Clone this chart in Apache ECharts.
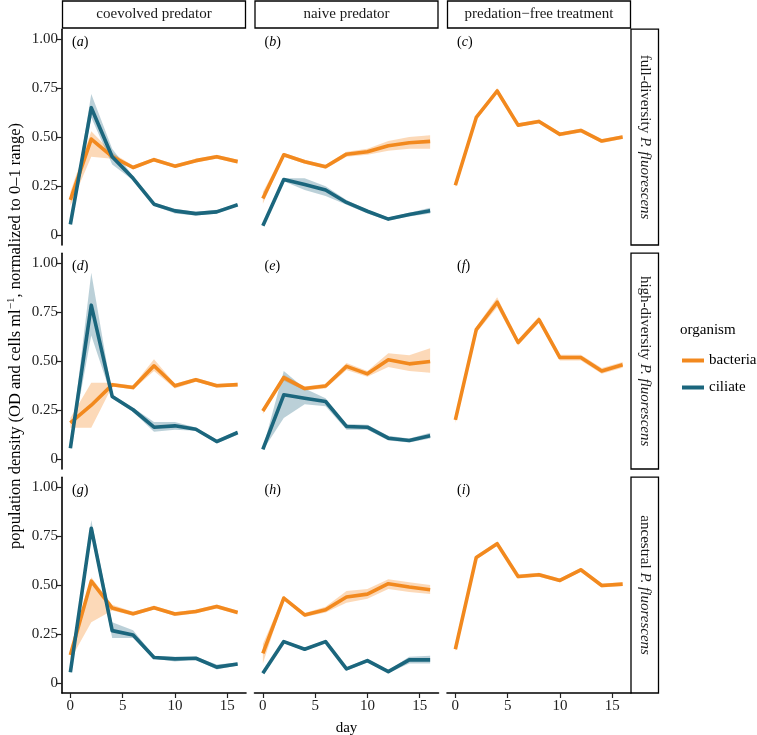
<!DOCTYPE html>
<html>
<head>
<meta charset="utf-8">
<script src="https://cdn.jsdelivr.net/npm/echarts@6/dist/echarts.min.js"></script>
<style>
html,body{margin:0;padding:0;background:#fff;}
#chart{width:757px;height:735px;}
</style>
</head>
<body>
<div id="chart"></div>
<script>
// ---------- data ----------
const days = [0, 2, 4, 6, 8, 10, 12, 14, 16];
const xTicks = [0, 5, 10, 15];
const yTicks = [0, 0.25, 0.5, 0.75, 1];
const colLabels = ['coevolved predator', 'naive predator', 'predation\u2212free treatment'];
const rowLabels = ['full-diversity', 'high-diversity', 'ancestral'];
const panelLetters = ['a', 'b', 'c', 'd', 'e', 'f', 'g', 'h', 'i'];
const organisms = ['bacteria', 'ciliate'];

// panel (a)
const aBact   = [0.18, 0.49, 0.40, 0.345, 0.385, 0.352, 0.38, 0.40, 0.375];
const aBactLo = [0.15, 0.40, 0.39, 0.335, 0.375, 0.342, 0.37, 0.39, 0.365];
const aBactHi = [0.22, 0.53, 0.42, 0.355, 0.395, 0.362, 0.39, 0.41, 0.385];
const aCil    = [0.055, 0.65, 0.40, 0.29, 0.158, 0.124, 0.11, 0.119, 0.155];
const aCilLo  = [0.05, 0.60, 0.36, 0.28, 0.15, 0.11, 0.10, 0.11, 0.15];
const aCilHi  = [0.06, 0.72, 0.44, 0.30, 0.165, 0.135, 0.12, 0.13, 0.16];
// panel (b)
const bBact   = [0.187, 0.41, 0.374, 0.349, 0.413, 0.425, 0.456, 0.471, 0.478];
const bBactLo = [0.16, 0.40, 0.364, 0.339, 0.40, 0.41, 0.43, 0.44, 0.44];
const bBactHi = [0.22, 0.42, 0.384, 0.359, 0.425, 0.44, 0.48, 0.50, 0.51];
const bCil    = [0.048, 0.284, 0.258, 0.23, 0.167, 0.122, 0.082, 0.105, 0.125];
const bCilLo  = [0.045, 0.275, 0.23, 0.20, 0.155, 0.11, 0.075, 0.095, 0.11];
const bCilHi  = [0.052, 0.29, 0.29, 0.25, 0.18, 0.13, 0.09, 0.115, 0.14];
// panel (c)
const cBact   = [0.255, 0.60, 0.735, 0.561, 0.58, 0.514, 0.534, 0.48, 0.50];
const cBactLo = [0.245, 0.59, 0.72, 0.551, 0.57, 0.504, 0.524, 0.47, 0.49];
const cBactHi = [0.265, 0.61, 0.75, 0.571, 0.59, 0.524, 0.544, 0.49, 0.51];
// panel (d)
const dBact   = [0.185, 0.275, 0.379, 0.365, 0.476, 0.374, 0.405, 0.374, 0.38];
const dBactLo = [0.16, 0.16, 0.37, 0.355, 0.45, 0.36, 0.395, 0.365, 0.37];
const dBactHi = [0.21, 0.39, 0.39, 0.375, 0.51, 0.385, 0.415, 0.385, 0.39];
const dCil    = [0.056, 0.785, 0.32, 0.252, 0.163, 0.17, 0.153, 0.09, 0.136];
const dCilLo  = [0.05, 0.63, 0.31, 0.24, 0.14, 0.15, 0.145, 0.08, 0.125];
const dCilHi  = [0.062, 0.95, 0.33, 0.262, 0.19, 0.19, 0.162, 0.10, 0.145];
// panel (e)
const eBact   = [0.246, 0.416, 0.36, 0.373, 0.473, 0.435, 0.507, 0.486, 0.498];
const eBactLo = [0.23, 0.40, 0.35, 0.36, 0.455, 0.42, 0.47, 0.45, 0.44];
const eBactHi = [0.26, 0.43, 0.37, 0.385, 0.49, 0.45, 0.54, 0.53, 0.565];
const eCil    = [0.05, 0.328, 0.311, 0.294, 0.167, 0.163, 0.107, 0.095, 0.119];
const eCilLo  = [0.045, 0.21, 0.28, 0.27, 0.15, 0.15, 0.095, 0.085, 0.105];
const eCilHi  = [0.055, 0.45, 0.36, 0.31, 0.18, 0.175, 0.12, 0.105, 0.135];
// panel (f)
const fBact   = [0.20, 0.66, 0.80, 0.595, 0.711, 0.518, 0.518, 0.45, 0.481];
const fBactLo = [0.185, 0.645, 0.775, 0.58, 0.695, 0.503, 0.503, 0.435, 0.466];
const fBactHi = [0.215, 0.675, 0.825, 0.61, 0.727, 0.533, 0.533, 0.465, 0.496];
// panel (g)
const gBact   = [0.144, 0.52, 0.383, 0.354, 0.385, 0.353, 0.365, 0.391, 0.36];
const gBactLo = [0.12, 0.31, 0.37, 0.344, 0.375, 0.343, 0.355, 0.381, 0.35];
const gBactHi = [0.17, 0.54, 0.40, 0.364, 0.395, 0.363, 0.375, 0.401, 0.37];
const gCil    = [0.056, 0.79, 0.268, 0.246, 0.131, 0.124, 0.127, 0.082, 0.098];
const gCilLo  = [0.05, 0.76, 0.23, 0.23, 0.125, 0.11, 0.12, 0.07, 0.09];
const gCilHi  = [0.062, 0.83, 0.31, 0.27, 0.14, 0.135, 0.135, 0.095, 0.105];
// panel (h)
const hBact   = [0.152, 0.434, 0.348, 0.374, 0.439, 0.454, 0.507, 0.49, 0.476];
const hBactLo = [0.10, 0.425, 0.338, 0.36, 0.41, 0.43, 0.48, 0.465, 0.455];
const hBactHi = [0.20, 0.445, 0.358, 0.39, 0.47, 0.48, 0.53, 0.515, 0.50];
const hCil    = [0.051, 0.212, 0.173, 0.212, 0.073, 0.115, 0.059, 0.119, 0.119];
const hCilLo  = [0.046, 0.205, 0.165, 0.205, 0.065, 0.105, 0.052, 0.10, 0.10];
const hCilHi  = [0.056, 0.22, 0.18, 0.22, 0.08, 0.125, 0.066, 0.135, 0.14];
// panel (i)
const iBact   = [0.173, 0.641, 0.711, 0.544, 0.553, 0.524, 0.578, 0.498, 0.505];
const iBactLo = [0.163, 0.631, 0.70, 0.534, 0.543, 0.514, 0.568, 0.488, 0.495];
const iBactHi = [0.183, 0.651, 0.722, 0.554, 0.563, 0.534, 0.588, 0.508, 0.515];

const panels = [
  {bacteria: [aBact, aBactLo, aBactHi], ciliate: [aCil, aCilLo, aCilHi]},
  {bacteria: [bBact, bBactLo, bBactHi], ciliate: [bCil, bCilLo, bCilHi]},
  {bacteria: [cBact, cBactLo, cBactHi]},
  {bacteria: [dBact, dBactLo, dBactHi], ciliate: [dCil, dCilLo, dCilHi]},
  {bacteria: [eBact, eBactLo, eBactHi], ciliate: [eCil, eCilLo, eCilHi]},
  {bacteria: [fBact, fBactLo, fBactHi]},
  {bacteria: [gBact, gBactLo, gBactHi], ciliate: [gCil, gCilLo, gCilHi]},
  {bacteria: [hBact, hBactLo, hBactHi], ciliate: [hCil, hCilLo, hCilHi]},
  {bacteria: [iBact, iBactLo, iBactHi]}
];

// ---------- styling / layout ----------
const SERIF = '"Liberation Serif", "DejaVu Serif", serif';
const lineColor = {bacteria: '#F2891E', ciliate: '#1B667D'};
const ribbonColor = {bacteria: 'rgba(245,140,40,0.33)', ciliate: 'rgba(30,100,125,0.30)'};
const colLeft = [62, 254.5, 447];
const colW = 184;
const rowTop = [29.2, 253.2, 477.2];
const rowH = 215.8;

const grids = [], xAxes = [], yAxes = [], series = [], graphics = [];

function ribbonSeries(gi, org, lo, hi) {
  return {
    type: 'custom', xAxisIndex: gi, yAxisIndex: gi, silent: true, z: 1,
    data: days.map((d, k) => [d, lo[k], hi[k]]),
    encode: {x: 0, y: [1, 2]},
    renderItem: function (params, api) {
      if (params.dataIndex !== 0) return null;
      const pts = [];
      for (let k = 0; k < days.length; k++) pts.push(api.coord([days[k], hi[k]]));
      for (let k = days.length - 1; k >= 0; k--) pts.push(api.coord([days[k], lo[k]]));
      return {type: 'polygon', shape: {points: pts}, style: {fill: ribbonColor[org]}};
    }
  };
}

for (let r = 0; r < 3; r++) {
  for (let c = 0; c < 3; c++) {
    const gi = r * 3 + c;
    grids.push({left: colLeft[c], top: rowTop[r], width: colW, height: rowH,
      containLabel: false, outerBoundsMode: 'none'});
    const showX = r === 2;
    const showY = c === 0;
    const xa = {
      type: 'value', gridIndex: gi, min: -0.8, max: 16.8,
      splitLine: {show: false},
      axisLine: {show: showX, onZero: false, lineStyle: {color: '#000', width: 1.6}},
      axisTick: {show: showX, customValues: xTicks, length: 5, lineStyle: {color: '#222', width: 1.2}},
      axisLabel: {show: showX, customValues: xTicks, color: '#222', fontFamily: SERIF, fontSize: 15, margin: 6}
    };
    if (r === 2 && c === 1) {
      xa.name = 'day';
      xa.nameLocation = 'middle';
      xa.nameGap = 28;
      xa.nameTextStyle = {fontFamily: SERIF, fontSize: 15, color: '#000'};
    }
    xAxes.push(xa);
    yAxes.push({
      type: 'value', gridIndex: gi, min: -0.05, max: 1.05,
      splitLine: {show: false},
      axisLine: {show: showY, onZero: false, lineStyle: {color: '#000', width: 1.6}},
      axisTick: {show: showY, customValues: yTicks, length: 5, lineStyle: {color: '#222', width: 1.2}},
      axisLabel: {show: showY, customValues: yTicks, color: '#222', fontFamily: SERIF, fontSize: 15, margin: 4,
        formatter: v => (v === 0 ? '0' : v.toFixed(2))}
    });

    const p = panels[gi];
    organisms.forEach(org => {
      if (!p[org]) return;
      const [mean, lo, hi] = p[org];
      series.push(ribbonSeries(gi, org, lo, hi));
    });
    organisms.forEach(org => {
      if (!p[org]) return;
      const [mean] = p[org];
      series.push({
        type: 'line', name: org, xAxisIndex: gi, yAxisIndex: gi, silent: true,
        symbol: 'none', z: 3,
        itemStyle: {color: lineColor[org]},
        lineStyle: {color: lineColor[org], width: 3.6, join: 'round', cap: 'butt'},
        data: days.map((d, k) => [d, mean[k]])
      });
    });

    graphics.push({
      type: 'text', left: colLeft[c] + 10, top: rowTop[r] + 6, silent: true,
      style: {
        text: '{p|(}{i|' + panelLetters[gi] + '}{p|)}',
        rich: {
          p: {fontFamily: SERIF, fontSize: 14, fill: '#000'},
          i: {fontFamily: SERIF, fontSize: 14, fontStyle: 'italic', fill: '#000'}
        }
      }
    });
  }
}

for (let c = 0; c < 3; c++) {
  graphics.push({
    type: 'rect', silent: true,
    shape: {x: colLeft[c] + 0.5, y: 1, width: colW - 1, height: 27},
    style: {fill: '#fff', stroke: '#000', lineWidth: 1.3}
  });
  graphics.push({
    type: 'text', silent: true, x: colLeft[c] + colW / 2, y: 14.5,
    style: {text: colLabels[c], fontFamily: SERIF, fontSize: 15, fill: '#1a1a1a', align: 'center', verticalAlign: 'middle'}
  });
}
for (let r = 0; r < 3; r++) {
  graphics.push({
    type: 'rect', silent: true,
    shape: {x: 631, y: rowTop[r], width: 27.5, height: rowH},
    style: {fill: '#fff', stroke: '#000', lineWidth: 1.3}
  });
  graphics.push({
    type: 'text', silent: true, x: 644.8, y: rowTop[r] + rowH / 2, rotation: -Math.PI / 2,
    style: {
      text: '{n|' + rowLabels[r] + ' }{i|P. fluorescens}',
      align: 'center', verticalAlign: 'middle',
      rich: {
        n: {fontFamily: SERIF, fontSize: 15, fill: '#1a1a1a'},
        i: {fontFamily: SERIF, fontSize: 15, fontStyle: 'italic', fill: '#1a1a1a'}
      }
    }
  });
}
// y-axis title
graphics.push({
  type: 'text', silent: true, x: 15, y: 336, rotation: Math.PI / 2,
  style: {
    text: '{t|population density (OD and cells ml}{s|\u22121}{t|, normalized to 0\u20131 range)}',
    align: 'center', verticalAlign: 'middle',
    rich: {
      t: {fontFamily: SERIF, fontSize: 16.5, fill: '#000', lineHeight: 18, verticalAlign: 'bottom'},
      s: {fontFamily: SERIF, fontSize: 11, fill: '#000', lineHeight: 18, verticalAlign: 'top'}
    }
  }
});
// legend title
graphics.push({
  type: 'text', silent: true, left: 680, top: 323,
  style: {text: 'organism', fontFamily: SERIF, fontSize: 15, fill: '#000'}
});

const chart = echarts.init(document.getElementById('chart'), null, {renderer: 'canvas'});
chart.setOption({
  animation: false,
  backgroundColor: '#fff',
  grid: grids,
  xAxis: xAxes,
  yAxis: yAxes,
  series: series,
  legend: {
    data: organisms,
    orient: 'vertical', left: 682, top: 352, padding: 0,
    icon: 'rect', itemWidth: 22, itemHeight: 4, itemGap: 10,
    textStyle: {fontFamily: SERIF, fontSize: 15, color: '#000', lineHeight: 17},
    selectedMode: false
  },
  graphic: graphics
});
</script>
</body>
</html>
